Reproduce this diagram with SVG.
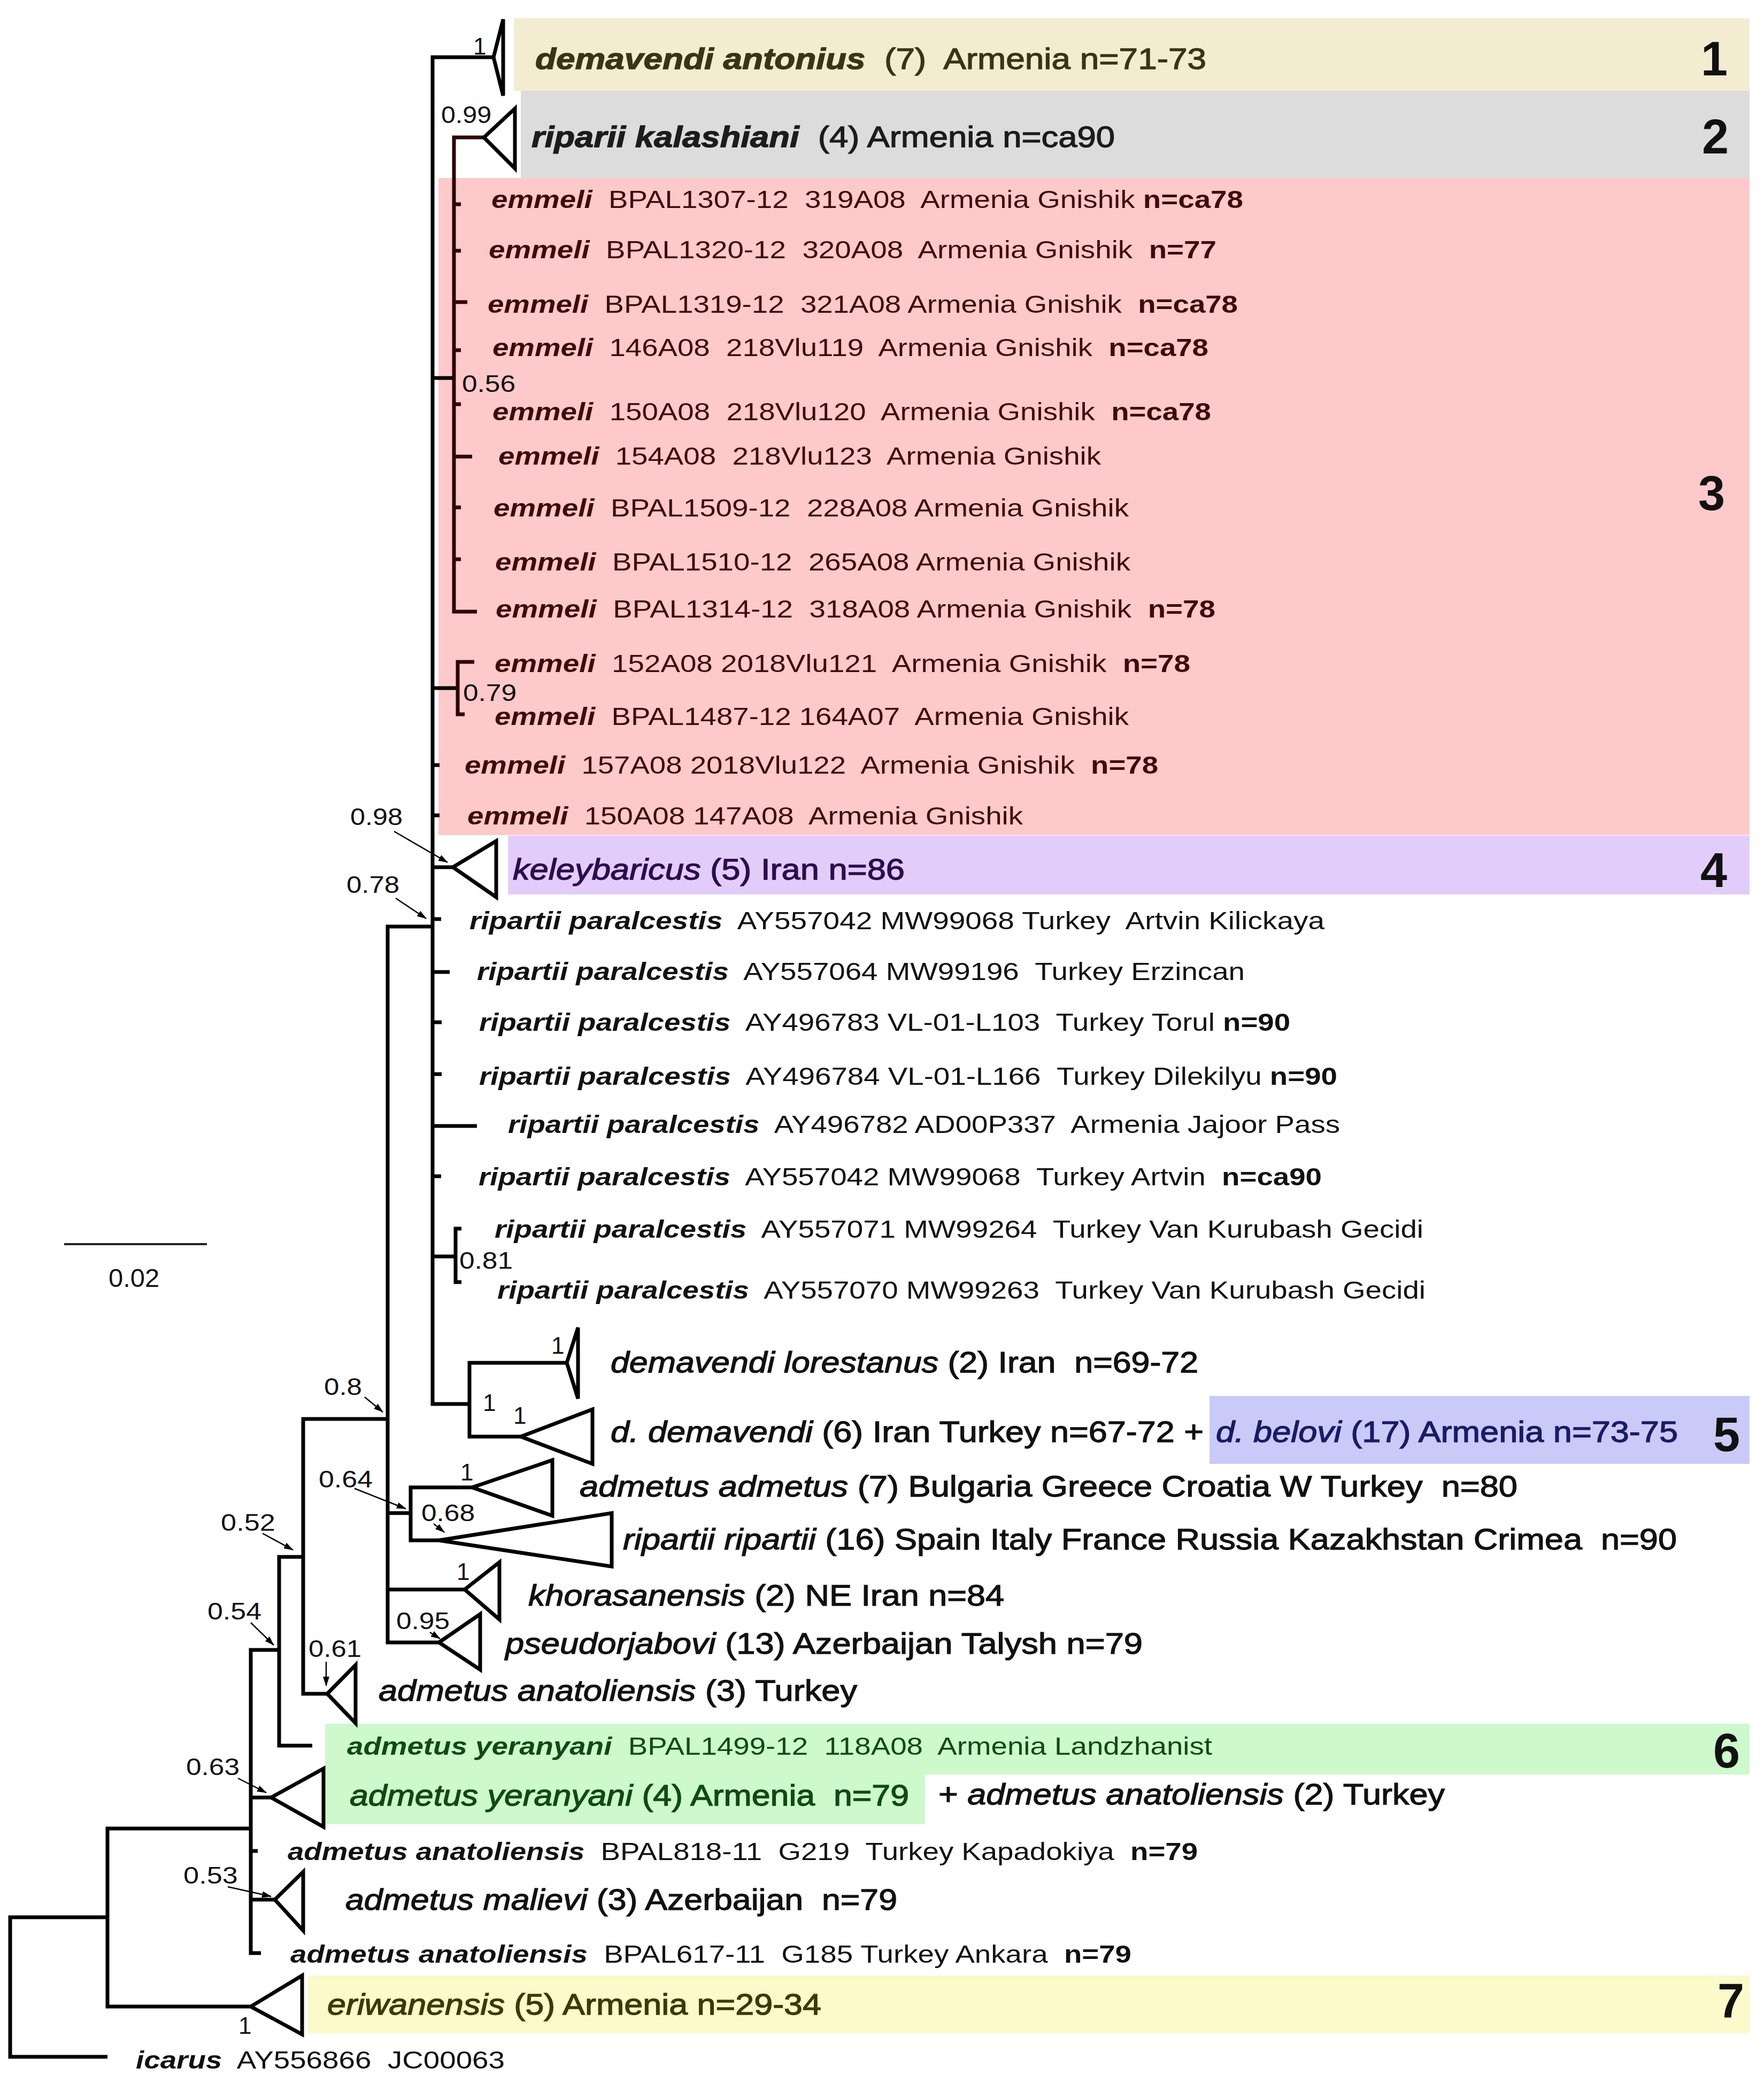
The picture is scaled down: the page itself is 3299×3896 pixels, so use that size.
<svg xmlns="http://www.w3.org/2000/svg" width="3299" height="3896" viewBox="0 0 3299 3896">
<defs>
<marker id="ah" markerUnits="userSpaceOnUse" markerWidth="18" markerHeight="12" refX="17" refY="6" orient="auto">
<path d="M0,0 L18,6 L0,12 z" fill="#000"/>
</marker>
<style>
.ln{fill:none;stroke:#000;stroke-width:7;stroke-linejoin:miter;stroke-linecap:butt}
.lm{fill:none;stroke:#2d0606;stroke-width:7;stroke-linejoin:miter;stroke-linecap:butt}
.tri{fill:none;stroke:#000;stroke-width:7;stroke-linejoin:miter}
.arr{fill:none;stroke:#000;stroke-width:2.5;marker-end:url(#ah)}
text{font-family:"Liberation Sans",Arial,sans-serif;color:#111;fill:currentColor}
.s{font-size:47px}
.g{font-size:56px;stroke:currentColor;stroke-width:1.3px}
.b{font-size:44px}
.n{font-size:90px;font-weight:bold;text-anchor:middle}
.bi{font-weight:bold;font-style:italic}
.i{font-style:italic}
.bo{font-weight:bold}
.c1{color:#3a3414}.c2{color:#1c1c1c}.c3{color:#3e0a0a}.c4{color:#2c0c50}.c5{color:#1a1a66}.c6{color:#0f4a12}.c7{color:#3b3a05}
</style>
</defs>
<rect width="3299" height="3896" fill="#fff"/>
<g id="bands">
<rect x="961" y="34" width="2311" height="136" fill="#f4ecd0"/>
<rect x="974" y="170" width="2298" height="163" fill="#dcdcdc"/>
<rect x="820" y="333" width="2452" height="1229" fill="#fec9ca"/>
<rect x="950" y="1563" width="2322" height="110" fill="#e2cdfa"/>
<rect x="2262" y="2611" width="1010" height="127" fill="#cacaf8"/>
<path d="M608 3224 H3272 V3319 H1730 V3412 H608 Z" fill="#cdf9cd"/>
<rect x="575" y="3695" width="2697" height="108" fill="#fcf9ca"/>
</g>
<g id="connectors">
<path class="ln" d="M923 107 H809 V2626 H878"/>
<path class="ln" d="M809 707 H849"/>
<path class="lm" d="M905 257 H849 V1144 H892"/>
<path class="lm" d="M849 382 H862 M849 469 H862 M849 565 H874 M849 655 H862 M849 756 H862 M849 854 H883 M849 949 H862 M849 1046 H862"/>
<path class="ln" d="M809 1287 H856"/>
<path class="lm" d="M887 1238 H856 V1336 H869"/>
<path class="ln" d="M809 1431 H822 M809 1525 H822 M809 1622 H847"/>
<path class="ln" d="M809 1733 H725 V3072 H821"/>
<path class="ln" d="M809 1719 H825 M809 1818 H841 M809 1912 H826 M809 2009 H826 M809 2106 H892 M809 2200 H825"/>
<path class="ln" d="M809 2350 H852"/>
<path class="ln" d="M863 2298 H852 V2398 H863"/>
<path class="ln" d="M1060 2549 H878 V2687 H974"/>
<path class="ln" d="M725 2654 H567 V3168 H612"/>
<path class="ln" d="M725 2830 H768"/>
<path class="ln" d="M883 2782 H768 V2881 H821"/>
<path class="ln" d="M725 2973 H869"/>
<path class="ln" d="M567 2912 H522 V3265 H584"/>
<path class="ln" d="M522 3086 H469 V3653 H488"/>
<path class="ln" d="M469 3362 H507 M469 3462 H482 M469 3553 H514"/>
<path class="ln" d="M469 3420 H201 V3753 H469"/>
<path class="ln" d="M201 3586 H19 V3847 H201"/>
<line class="arr" x1="737" y1="1555" x2="837" y2="1613"/>
<line class="arr" x1="740" y1="1680" x2="797" y2="1718"/>
<line class="arr" x1="682" y1="2613" x2="716" y2="2641"/>
<line class="arr" x1="663" y1="2784" x2="759" y2="2822"/>
<line class="arr" x1="811" y1="2850" x2="831" y2="2866"/>
<line class="arr" x1="491" y1="2868" x2="548" y2="2899"/>
<line class="arr" x1="469" y1="3035" x2="512" y2="3077"/>
<line class="arr" x1="610" y1="3108" x2="610" y2="3153"/>
<line class="arr" x1="804" y1="3053" x2="823" y2="3065"/>
<line class="arr" x1="445" y1="3326" x2="498" y2="3353"/>
<line class="arr" x1="426" y1="3529" x2="507" y2="3547"/>
</g>
<g id="support">
<text class="b" x="885" y="102">1</text>
<text class="b" x="825" y="230" textLength="94" lengthAdjust="spacingAndGlyphs">0.99</text>
<text class="b" x="864" y="733" textLength="100" lengthAdjust="spacingAndGlyphs">0.56</text>
<text class="b" x="866" y="1311" textLength="100" lengthAdjust="spacingAndGlyphs">0.79</text>
<text class="b" x="655" y="1543" textLength="98" lengthAdjust="spacingAndGlyphs">0.98</text>
<text class="b" x="648" y="1670" textLength="99" lengthAdjust="spacingAndGlyphs">0.78</text>
<text class="b" x="859" y="2373" textLength="100" lengthAdjust="spacingAndGlyphs">0.81</text>
<text class="b" x="1031" y="2532">1</text>
<text class="b" x="903" y="2639">1</text>
<text class="b" x="960" y="2663">1</text>
<text class="b" x="606" y="2609" textLength="71" lengthAdjust="spacingAndGlyphs">0.8</text>
<text class="b" x="596" y="2782" textLength="101" lengthAdjust="spacingAndGlyphs">0.64</text>
<text class="b" x="788" y="2845" textLength="100" lengthAdjust="spacingAndGlyphs">0.68</text>
<text class="b" x="861" y="2769">1</text>
<text class="b" x="413" y="2863" textLength="102" lengthAdjust="spacingAndGlyphs">0.52</text>
<text class="b" x="854" y="2955">1</text>
<text class="b" x="741" y="3047" textLength="100" lengthAdjust="spacingAndGlyphs">0.95</text>
<text class="b" x="388" y="3029" textLength="101" lengthAdjust="spacingAndGlyphs">0.54</text>
<text class="b" x="577" y="3099" textLength="99" lengthAdjust="spacingAndGlyphs">0.61</text>
<text class="b" x="348" y="3320" textLength="100" lengthAdjust="spacingAndGlyphs">0.63</text>
<text class="b" x="343" y="3523" textLength="102" lengthAdjust="spacingAndGlyphs">0.53</text>
<text class="b" x="446" y="3804">1</text>
</g>
<g id="scalebar">
<line x1="120" y1="2327" x2="387" y2="2327" stroke="#222" stroke-width="4"/>
<text x="203" y="2407" style="font-size:49px">0.02</text>
</g>
<g id="node-antonius">
<polygon class="tri" points="923,107 941,36 941,179"/>
<text class="g c1" x="1001" y="129" textLength="1255" lengthAdjust="spacingAndGlyphs" xml:space="preserve"><tspan class="bi">demavendi antonius</tspan>  (7)  Armenia n=71-73</text>
<text class="n" x="3206" y="141">1</text>
</g>
<g id="node-kalashiani">
<polygon class="tri" points="905,257 963,203 963,315"/>
<text class="g c2" x="994" y="275" textLength="1091" lengthAdjust="spacingAndGlyphs" xml:space="preserve"><tspan class="bi">riparii kalashiani</tspan>  (4) Armenia n=ca90</text>
<text class="n" x="3208" y="287">2</text>
</g>
<g id="node-emmeli">
<text class="s c3" x="919" y="389" textLength="1406" lengthAdjust="spacingAndGlyphs" xml:space="preserve"><tspan class="bi">emmeli</tspan>  BPAL1307-12  319A08  Armenia Gnishik <tspan class="bo">n=ca78</tspan></text>
<text class="s c3" x="914" y="483" textLength="1361" lengthAdjust="spacingAndGlyphs" xml:space="preserve"><tspan class="bi">emmeli</tspan>  BPAL1320-12  320A08  Armenia Gnishik  <tspan class="bo">n=77</tspan></text>
<text class="s c3" x="912" y="585" textLength="1403" lengthAdjust="spacingAndGlyphs" xml:space="preserve"><tspan class="bi">emmeli</tspan>  BPAL1319-12  321A08 Armenia Gnishik  <tspan class="bo">n=ca78</tspan></text>
<text class="s c3" x="921" y="666" textLength="1339" lengthAdjust="spacingAndGlyphs" xml:space="preserve"><tspan class="bi">emmeli</tspan>  146A08  218Vlu119  Armenia Gnishik  <tspan class="bo">n=ca78</tspan></text>
<text class="s c3" x="921" y="786" textLength="1344" lengthAdjust="spacingAndGlyphs" xml:space="preserve"><tspan class="bi">emmeli</tspan>  150A08  218Vlu120  Armenia Gnishik  <tspan class="bo">n=ca78</tspan></text>
<text class="s c3" x="932" y="869" textLength="1127" lengthAdjust="spacingAndGlyphs" xml:space="preserve"><tspan class="bi">emmeli</tspan>  154A08  218Vlu123  Armenia Gnishik</text>
<text class="s c3" x="923" y="966" textLength="1188" lengthAdjust="spacingAndGlyphs" xml:space="preserve"><tspan class="bi">emmeli</tspan>  BPAL1509-12  228A08 Armenia Gnishik</text>
<text class="s c3" x="926" y="1067" textLength="1188" lengthAdjust="spacingAndGlyphs" xml:space="preserve"><tspan class="bi">emmeli</tspan>  BPAL1510-12  265A08 Armenia Gnishik</text>
<text class="s c3" x="927" y="1155" textLength="1346" lengthAdjust="spacingAndGlyphs" xml:space="preserve"><tspan class="bi">emmeli</tspan>  BPAL1314-12  318A08 Armenia Gnishik  <tspan class="bo">n=78</tspan></text>
<text class="s c3" x="925" y="1257" textLength="1301" lengthAdjust="spacingAndGlyphs" xml:space="preserve"><tspan class="bi">emmeli</tspan>  152A08 2018Vlu121  Armenia Gnishik  <tspan class="bo">n=78</tspan></text>
<text class="s c3" x="925" y="1356" textLength="1186" lengthAdjust="spacingAndGlyphs" xml:space="preserve"><tspan class="bi">emmeli</tspan>  BPAL1487-12 164A07  Armenia Gnishik</text>
<text class="s c3" x="869" y="1447" textLength="1297" lengthAdjust="spacingAndGlyphs" xml:space="preserve"><tspan class="bi">emmeli</tspan>  157A08 2018Vlu122  Armenia Gnishik  <tspan class="bo">n=78</tspan></text>
<text class="s c3" x="874" y="1542" textLength="1039" lengthAdjust="spacingAndGlyphs" xml:space="preserve"><tspan class="bi">emmeli</tspan>  150A08 147A08  Armenia Gnishik</text>
<text class="n" x="3201" y="954">3</text>
</g>
<g id="node-keleybaricus">
<polygon class="tri" points="847,1622 928,1573 928,1678"/>
<text class="g c4" x="959" y="1645" textLength="733" lengthAdjust="spacingAndGlyphs" xml:space="preserve"><tspan class="i">keleybaricus</tspan> (5) Iran n=86</text>
<text class="n" x="3205" y="1659">4</text>
</g>
<g id="node-paralcestis">
<text class="s" x="878" y="1738" textLength="1599" lengthAdjust="spacingAndGlyphs" xml:space="preserve"><tspan class="bi">ripartii paralcestis</tspan>  AY557042 MW99068 Turkey  Artvin Kilickaya</text>
<text class="s" x="892" y="1833" textLength="1436" lengthAdjust="spacingAndGlyphs" xml:space="preserve"><tspan class="bi">ripartii paralcestis</tspan>  AY557064 MW99196  Turkey Erzincan</text>
<text class="s" x="896" y="1928" textLength="1517" lengthAdjust="spacingAndGlyphs" xml:space="preserve"><tspan class="bi">ripartii paralcestis</tspan>  AY496783 VL-01-L103  Turkey Torul <tspan class="bo">n=90</tspan></text>
<text class="s" x="896" y="2029" textLength="1605" lengthAdjust="spacingAndGlyphs" xml:space="preserve"><tspan class="bi">ripartii paralcestis</tspan>  AY496784 VL-01-L166  Turkey Dilekilyu <tspan class="bo">n=90</tspan></text>
<text class="s" x="950" y="2119" textLength="1556" lengthAdjust="spacingAndGlyphs" xml:space="preserve"><tspan class="bi">ripartii paralcestis</tspan>  AY496782 AD00P337  Armenia Jajoor Pass</text>
<text class="s" x="895" y="2217" textLength="1577" lengthAdjust="spacingAndGlyphs" xml:space="preserve"><tspan class="bi">ripartii paralcestis</tspan>  AY557042 MW99068  Turkey Artvin  <tspan class="bo">n=ca90</tspan></text>
<text class="s" x="925" y="2315" textLength="1737" lengthAdjust="spacingAndGlyphs" xml:space="preserve"><tspan class="bi">ripartii paralcestis</tspan>  AY557071 MW99264  Turkey Van Kurubash Gecidi</text>
<text class="s" x="930" y="2429" textLength="1736" lengthAdjust="spacingAndGlyphs" xml:space="preserve"><tspan class="bi">ripartii paralcestis</tspan>  AY557070 MW99263  Turkey Van Kurubash Gecidi</text>
</g>
<g id="node-lorestanus">
<polygon class="tri" points="1060,2549 1081,2483 1081,2616"/>
<text class="g" x="1142" y="2567" textLength="1099" lengthAdjust="spacingAndGlyphs" xml:space="preserve"><tspan class="i">demavendi lorestanus</tspan> (2) Iran  n=69-72</text>
</g>
<g id="node-demavendi">
<polygon class="tri" points="974,2687 1108,2636 1108,2738"/>
<text class="g" x="1142" y="2697" textLength="1109" lengthAdjust="spacingAndGlyphs" xml:space="preserve"><tspan class="i">d. demavendi</tspan> (6) Iran Turkey n=67-72 +</text>
<text class="g c5" x="2274" y="2697" textLength="864" lengthAdjust="spacingAndGlyphs" xml:space="preserve"><tspan class="i">d. belovi</tspan> (17) Armenia n=73-75</text>
<text class="n" x="3229" y="2714">5</text>
</g>
<g id="node-admetus">
<polygon class="tri" points="883,2782 1033,2731 1033,2835"/>
<text class="g" x="1084" y="2799" textLength="1754" lengthAdjust="spacingAndGlyphs" xml:space="preserve"><tspan class="i">admetus admetus</tspan> (7) Bulgaria Greece Croatia W Turkey  n=80</text>
</g>
<g id="node-ripartii">
<polygon class="tri" points="821,2881 1144,2830 1144,2930"/>
<text class="g" x="1165" y="2898" textLength="1971" lengthAdjust="spacingAndGlyphs" xml:space="preserve"><tspan class="i">ripartii ripartii</tspan> (16) Spain Italy France Russia Kazakhstan Crimea  n=90</text>
</g>
<g id="node-khorasanensis">
<polygon class="tri" points="869,2973 934,2922 934,3029"/>
<text class="g" x="988" y="3003" textLength="890" lengthAdjust="spacingAndGlyphs" xml:space="preserve"><tspan class="i">khorasanensis</tspan> (2) NE Iran n=84</text>
</g>
<g id="node-pseudorjabovi">
<polygon class="tri" points="821,3072 898,3019 898,3123"/>
<text class="g" x="945" y="3093" textLength="1192" lengthAdjust="spacingAndGlyphs" xml:space="preserve"><tspan class="i">pseudorjabovi</tspan> (13) Azerbaijan Talysh n=79</text>
</g>
<g id="node-anatoliensis3">
<polygon class="tri" points="612,3168 665,3114 665,3223"/>
<text class="g" x="708" y="3181" textLength="895" lengthAdjust="spacingAndGlyphs" xml:space="preserve"><tspan class="i">admetus anatoliensis</tspan> (3) Turkey</text>
</g>
<g id="node-yeranyani">
<text class="s c6" x="649" y="3282" textLength="1618" lengthAdjust="spacingAndGlyphs" xml:space="preserve"><tspan class="bi">admetus yeranyani</tspan>  BPAL1499-12  118A08  Armenia Landzhanist</text>
<polygon class="tri" points="507,3362 605,3308 605,3417"/>
<text class="g c6" x="654" y="3377" textLength="1046" lengthAdjust="spacingAndGlyphs" xml:space="preserve"><tspan class="i">admetus yeranyani</tspan> (4) Armenia  n=79</text>
<text class="g" x="1755" y="3375" textLength="947" lengthAdjust="spacingAndGlyphs" xml:space="preserve">+ <tspan class="i">admetus anatoliensis</tspan> (2) Turkey</text>
<text class="n" x="3229" y="3306">6</text>
</g>
<g id="node-anatoliensis818">
<text class="s" x="538" y="3479" textLength="1702" lengthAdjust="spacingAndGlyphs" xml:space="preserve"><tspan class="bi">admetus anatoliensis</tspan>  BPAL818-11  G219  Turkey Kapadokiya  <tspan class="bo">n=79</tspan></text>
</g>
<g id="node-malievi">
<polygon class="tri" points="514,3553 567,3501 567,3611"/>
<text class="g" x="646" y="3572" textLength="1032" lengthAdjust="spacingAndGlyphs" xml:space="preserve"><tspan class="i">admetus malievi</tspan> (3) Azerbaijan  n=79</text>
</g>
<g id="node-anatoliensis617">
<text class="s" x="543" y="3671" textLength="1573" lengthAdjust="spacingAndGlyphs" xml:space="preserve"><tspan class="bi">admetus anatoliensis</tspan>  BPAL617-11  G185 Turkey Ankara  <tspan class="bo">n=79</tspan></text>
</g>
<g id="node-eriwanensis">
<polygon class="tri" points="469,3753 565,3695 565,3805"/>
<text class="g c7" x="612" y="3768" textLength="924" lengthAdjust="spacingAndGlyphs" xml:space="preserve"><tspan class="i">eriwanensis</tspan> (5) Armenia n=29-34</text>
<text class="n" x="3237" y="3773">7</text>
</g>
<g id="node-icarus">
<text class="s" x="254" y="3869" textLength="690" lengthAdjust="spacingAndGlyphs" xml:space="preserve"><tspan class="bi">icarus</tspan>  AY556866  JC00063</text>
</g>
</svg>
